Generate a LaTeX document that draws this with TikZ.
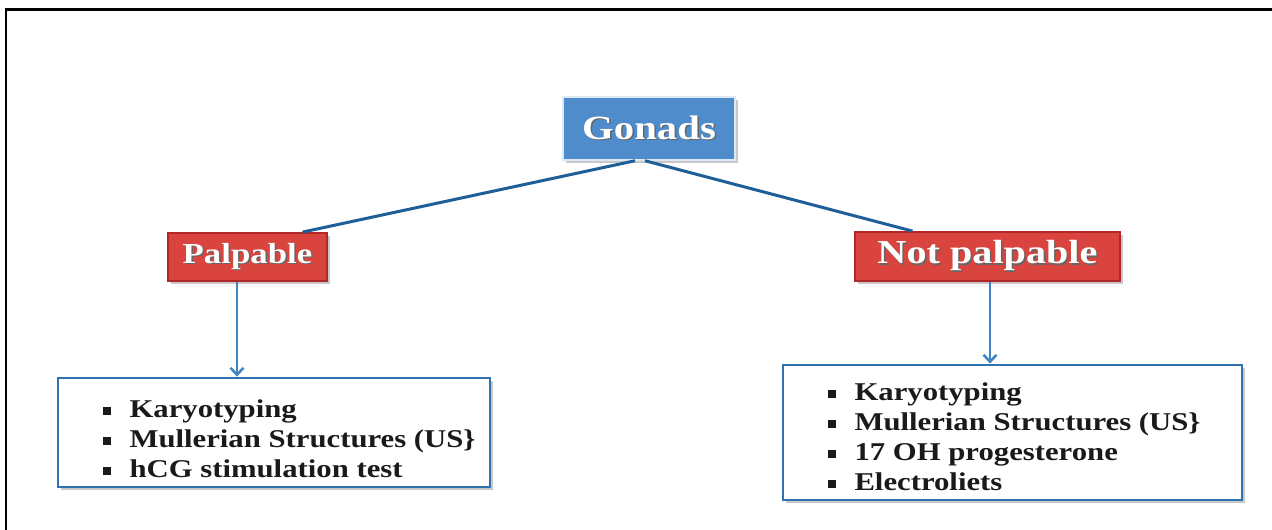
\documentclass[tikz,border=0pt]{standalone}
\usepackage{fontspec}
\setmainfont{Liberation Serif}[FakeStretch=1.2]
\usetikzlibrary{shadows,arrows.meta}
\definecolor{gblue}{HTML}{4F8CCB}
\definecolor{pred}{HTML}{D9443F}
\definecolor{predb}{HTML}{B0282A}
\definecolor{lineblue}{HTML}{1F5F98}
\definecolor{arrblue}{HTML}{3F84C5}
\definecolor{boxblue}{HTML}{2F73B3}
\definecolor{txt}{HTML}{1A1A1A}
\newcommand{\shtext}[1]{\makebox[0pt][l]{\raisebox{-1.5pt}{\hspace{1.5pt}\textcolor{black!60}{#1}}}\textcolor{white}{#1}}
\newcommand{\blt}{\raisebox{3pt}{\rule{7.5pt}{7.5pt}}}
\tikzset{
  shbox/.style={drop shadow={shadow xshift=2.5pt,shadow yshift=-3pt,opacity=.3,fill=black!70}},
  headbox/.style={shbox,fill=gblue,draw=white!80!gblue,line width=1.5pt,inner sep=0pt,font=\bfseries\fontsize{34}{40}\selectfont},
  redbox/.style={shbox,fill=pred,draw=predb,line width=1.8pt,inner sep=0pt},
  listbox/.style={shbox,fill=white,draw=boxblue,line width=2.8pt,inner sep=0pt,text=txt,font=\bfseries\fontsize{25.6}{30}\selectfont},
  conn/.style={draw=lineblue,line width=3pt},
  arr/.style={draw=arrblue,line width=2.5pt,-{Straight Barb[length=7pt,width=13pt,line width=2.5pt]}}
}
\begin{document}
\begin{tikzpicture}[x=1pt,y=-1pt]
\useasboundingbox (0,0) rectangle (1272,530);
\fill[white] (0,0) rectangle (1272,530);
\draw[line width=2.5pt,line cap=rect] (6,535) -- (6,9.5) -- (1280,9.5);
\node[headbox,minimum width=172pt,minimum height=63pt] (gonads) at (649,128.5) {\raisebox{2pt}{\shtext{Gonads}}};
\node[redbox,minimum width=159pt,minimum height=48pt,font=\bfseries\fontsize{29}{34}\selectfont] (palp) at (247.5,257) {\shtext{Palpable}};
\node[redbox,minimum width=265pt,minimum height=49pt,font=\bfseries\fontsize{33.5}{38}\selectfont] (notp) at (987.5,256.5) {\shtext{Not palpable}};
\node[listbox,minimum width=432pt,minimum height=109pt] (lbox) at (274,432.5) {%
\makebox[432pt][l]{\hspace*{45pt}\begin{tabular}{@{}l@{\hspace{19pt}}l@{}}
\blt\rule{0pt}{39pt} & Karyotyping\\
\blt & Mullerian Structures (US\}\\
\blt & hCG stimulation test
\end{tabular}}};
\node[listbox,minimum width=459pt,minimum height=135pt] (rbox) at (1012.5,432.5) {%
\makebox[459pt][l]{\hspace*{45pt}\begin{tabular}{@{}l@{\hspace{19pt}}l@{}}
\blt\rule{0pt}{35pt} & Karyotyping\\
\blt & Mullerian Structures (US\}\\
\blt & 17 OH progesterone\\
\blt & Electroliets
\end{tabular}}};
\draw[conn] ([xshift=-14pt]gonads.south) -- ([xshift=55pt]palp.north);
\draw[conn] ([xshift=-4pt]gonads.south) -- ([xshift=-75pt]notp.north);
\draw[arr] ([xshift=-10.5pt]palp.south) -- ([xshift=-10.5pt]palp.south |- lbox.north);
\draw[arr] ([xshift=2.5pt]notp.south) -- ([xshift=2.5pt]notp.south |- rbox.north);
\end{tikzpicture}
\end{document}
